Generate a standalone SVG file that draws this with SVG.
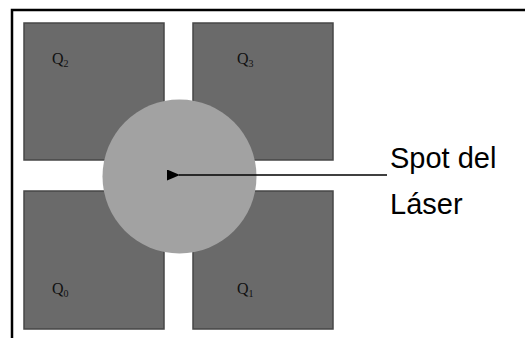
<svg xmlns="http://www.w3.org/2000/svg" width="525" height="338" viewBox="0 0 525 338">
  <defs>
    <style>
      .quad { fill: #6a6a6a; stroke: #474747; stroke-width: 1.5; }
      .qlabel { font-family: "Liberation Serif", serif; font-size: 16px; fill: #111; }
      .qsub { font-size: 10px; }
      .label { font-family: "Liberation Sans", Arial, sans-serif; font-size: 29px; fill: #000; }
      .frame { fill: none; stroke: #000; stroke-width: 2.5; }
    </style>
    <marker id="arrowhead" markerWidth="13" markerHeight="11" refX="1" refY="5.5" orient="auto" markerUnits="userSpaceOnUse">
      <path d="M13,0 L0,5.5 L13,11 Z" fill="#000"/>
    </marker>
  </defs>

  <rect width="525" height="338" fill="#fff"/>

  <!-- outer frame: top and left edges -->
  <path class="frame" d="M12,338 L12,10 L525,10"/>

  <!-- photodiode quadrants -->
  <g id="q2">
    <rect class="quad" x="24" y="23" width="140" height="137"/>
    <text class="qlabel" x="52" y="64">Q<tspan class="qsub" dy="3">2</tspan></text>
  </g>
  <g id="q3">
    <rect class="quad" x="193" y="23" width="140" height="137"/>
    <text class="qlabel" x="237" y="64">Q<tspan class="qsub" dy="3">3</tspan></text>
  </g>
  <g id="q0">
    <rect class="quad" x="24" y="191" width="140" height="138"/>
    <text class="qlabel" x="52" y="294">Q<tspan class="qsub" dy="3">0</tspan></text>
  </g>
  <g id="q1">
    <rect class="quad" x="193" y="191" width="140" height="138"/>
    <text class="qlabel" x="237" y="294">Q<tspan class="qsub" dy="3">1</tspan></text>
  </g>

  <!-- laser spot -->
  <g id="spot">
    <circle cx="179.5" cy="176.5" r="77" fill="#a2a2a2"/>
  </g>

  <!-- pointer from the label to the spot centre -->
  <g id="connectors">
    <line x1="387" y1="175" x2="179" y2="175" stroke="#000" stroke-width="1.5" marker-end="url(#arrowhead)"/>
  </g>

  <g id="spot-label">
    <text class="label" x="390" y="168">Spot del</text>
    <text class="label" x="390" y="214">Láser</text>
  </g>
</svg>
